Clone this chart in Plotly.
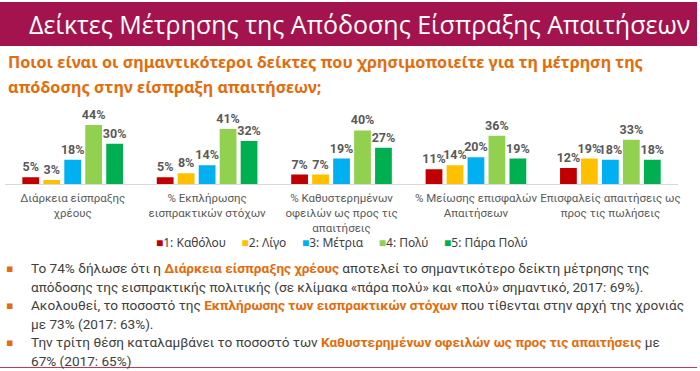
import plotly.graph_objects as go

categories = [
    "Διάρκεια είσπραξης<br>χρέους",
    "% Εκπλήρωσης<br>εισπρακτικών στόχων",
    "% Καθυστερημένων<br>οφειλών ως προς τις<br>απαιτήσεις",
    "% Μείωσης επισφαλών<br>Απαιτήσεων",
    "Επισφαλείς απαιτήσεις ως<br>προς τις πωλήσεις",
]
series_names = ["1: Καθόλου", "2: Λίγο", "3: Μέτρια", "4: Πολύ", "5: Πάρα Πολύ"]
s1 = [5, 5, 7, 11, 12]
s2 = [3, 8, 7, 14, 19]
s3 = [18, 14, 19, 20, 18]
s4 = [44, 41, 40, 36, 33]
s5 = [30, 32, 27, 19, 18]
series_values = [s1, s2, s3, s4, s5]
colors = ["#C00000", "#FFC000", "#00B0F0", "#92D050", "#00B050"]

title_text = "Δείκτες Μέτρησης της Απόδοσης Είσπραξης Απαιτήσεων"
question_lines = [
    "Ποιοι είναι οι σημαντικότεροι δείκτες που χρησιμοποιείτε για τη μέτρηση της",
    "απόδοσης στην είσπραξη απαιτήσεων;",
]
OR = "#E46C0A"
def hl(t):
    return f"<b><span style='color:{OR}'>{t}</span></b>"
bullet_lines = [
    (True, "Το 74% δήλωσε ότι η " + hl("Διάρκεια είσπραξης χρέους") + " αποτελεί το σημαντικότερο δείκτη μέτρησης της"),
    (False, "απόδοσης της εισπρακτικής πολιτικής (σε κλίμακα «πάρα πολύ» και «πολύ» σημαντικό, 2017: 69%)."),
    (True, "Ακολουθεί, το ποσοστό της " + hl("Εκπλήρωσης των εισπρακτικών στόχων") + " που τίθενται στην αρχή της χρονιάς"),
    (False, "με 73% (2017: 63%)."),
    (True, "Την τρίτη θέση καταλαμβάνει το ποσοστό των " + hl("Καθυστερημένων οφειλών ως προς τις απαιτήσεις") + " με"),
    (False, "67% (2017: 65%)"),
]

W, H = 700, 371
def py(y):
    return 1 - y / H
def px(x):
    return x / W

fig = go.Figure()
for name, vals, col in zip(series_names, series_values, colors):
    fig.add_trace(go.Bar(
        x=categories, y=vals, name=name,
        marker=dict(color=col, line=dict(width=0)),
        text=[f"{v}%" for v in vals], textposition="outside", constraintext="none",
        textfont=dict(family="Roboto", size=12.5, color="#595959", weight="bold"),
        cliponaxis=False, showlegend=False,
    ))

shapes = [
    dict(type="rect", xref="paper", yref="paper", x0=0, x1=1, y0=py(46), y1=py(2),
         fillcolor="#A3144F", line=dict(width=0), layer="below"),
    dict(type="line", xref="paper", yref="paper", x0=0, x1=1, y0=py(367.5), y1=py(367.5),
         line=dict(color="#C8385A", width=1.2)),
]

annotations = [
    dict(text=title_text, x=px(27), y=py(24), xref="paper", yref="paper",
         xanchor="left", yanchor="middle", showarrow=False,
         font=dict(family="Open Sans", size=25, color="white")),
]
for i, line in enumerate(question_lines):
    annotations.append(dict(text=f"<b>{line}</b>", x=px(6), y=py(62 + 25 * i), xref="paper", yref="paper",
                            xanchor="left", yanchor="middle", showarrow=False,
                            font=dict(family="Noto Sans", size=16.2, color=OR)))

legend_html = "&nbsp;&nbsp;&nbsp;&nbsp;&nbsp;".join(
    f"<span style='color:{c}'>■</span>{n}" for n, c in zip(series_names, colors))
annotations.append(dict(text=legend_html, x=px(343), y=py(242), xref="paper", yref="paper",
                        xanchor="center", yanchor="middle", showarrow=False,
                        font=dict(family="Noto Sans", size=12, color="#404040")))

for i, (bullet, line) in enumerate(bullet_lines):
    y = 268 + 18.6 * i
    if bullet:
        annotations.append(dict(text="▪", x=px(10), y=py(y), xref="paper", yref="paper",
                                xanchor="center", yanchor="middle", showarrow=False,
                                font=dict(family="DejaVu Sans", size=11, color=OR)))
    annotations.append(dict(text=line, x=px(29), y=py(y), xref="paper", yref="paper",
                            xanchor="left", yanchor="middle", showarrow=False,
                            font=dict(family="Roboto", size=13.6, color="#404040")))

fig.update_layout(
    width=W, height=H, margin=dict(l=0, r=0, t=0, b=0),
    paper_bgcolor="white", plot_bgcolor="white",
    barmode="group", bargap=0.22, bargroupgap=0.2,
    xaxis=dict(domain=[px(5.5), px(680.5)], showline=True, linecolor="#D9D9D9", linewidth=1,
               ticks="", showgrid=False, anchor="y", ticklabelstandoff=3,
               tickfont=dict(family="Roboto", size=11.5, color="#595959")),
    yaxis=dict(domain=[py(184), py(110)], range=[0, 55.2], visible=False, showgrid=False),
    shapes=shapes, annotations=annotations, showlegend=False,
)

fig.write_html("out.html", config={"displayModeBar": False},
               post_script=["document.body.style.margin='0px';"])
